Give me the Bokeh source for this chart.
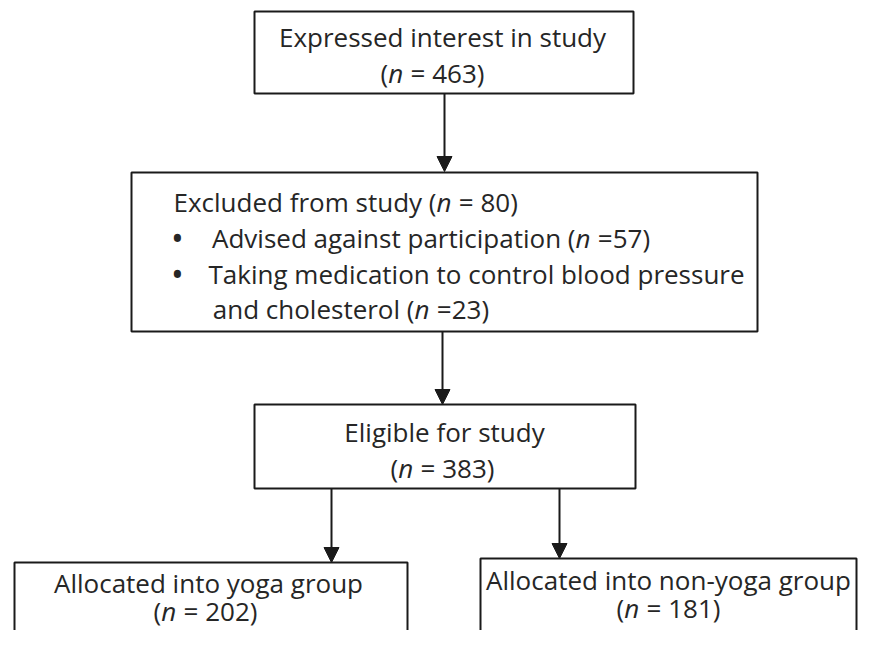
from bokeh.plotting import figure
from bokeh.models import Range1d, Arrow, NormalHead
from bokeh.core.properties import value
from bokeh.embed import file_html
from bokeh.resources import INLINE

# ---------------- data ----------------
stages = ["Expressed interest in study", "Excluded from study", "Eligible for study",
          "Allocated into yoga group", "Allocated into non-yoga group"]
counts = [463, 80, 383, 202, 181]
exclusion_reasons = ["Advised against participation",
                     "Taking medication to control blood pressure", "and cholesterol"]
exclusion_counts = [57, 23]

# ---------------- layout (screen pixel coordinates) ----------------
FONT = "Open Sans"
FS = 26
TXT = "#262626"
LINE = "#1a1a1a"
W, H = 858, 630

# boxes: left, top, right, bottom
boxes = [(254, 11, 633, 93), (131, 172, 757, 331), (254, 404, 635, 488),
         (14, 562, 407, 700), (480, 558, 856, 700)]
arrows = [(444, 93, 444, 171), (442, 331, 442, 404), (331, 488, 331, 562), (559, 488, 559, 558)]

p = figure(width=W, height=H, output_backend="svg", toolbar_location=None,
           x_range=Range1d(0, W), y_range=Range1d(H, 0), min_border=0)
p.axis.visible = False
p.grid.visible = False
p.outline_line_color = None
p.background_fill_color = "white"
p.border_fill_color = "white"

p.quad(left=[b[0] for b in boxes], right=[b[2] for b in boxes],
       top=[b[1] for b in boxes], bottom=[b[3] for b in boxes],
       fill_color="white", line_color=LINE, line_width=2)

for (x0, y0, x1, y1) in arrows:
    p.add_layout(Arrow(x_start=x0, y_start=y0, x_end=x1, y_end=y1, line_color=LINE, line_width=2,
                       end=NormalHead(size=15, fill_color=LINE, line_color=LINE, line_width=1)))

CW = {" ": 0.26, "(": 0.296, ")": 0.296, "=": 0.571, "n": 0.6}


def wid(s):
    return sum(CW.get(c, 0.571) for c in s) * FS


def txt(x, y, s, align="left", style="normal", size=FS):
    p.text(x=[x], y=[y], text=[s], text_font=value(FONT), text_font_size=f"{size}px",
           text_color=TXT, text_align=align, text_baseline="middle", text_font_style=style)


def count_tail(xn, y, n, sep):
    # italic n, then the rest of the count; a leading space is drawn as an offset
    txt(xn, y, "n", style="italic")
    x = xn + wid("n")
    rest = sep + str(n) + ")"
    if rest.startswith(" "):
        x += wid(" ")
        rest = rest.lstrip(" ")
    txt(x, y, rest)


def count_line(cx, y, n, sep=" = "):
    total = wid("(") + wid("n") + wid(sep + str(n) + ")")
    x = cx - total / 2
    txt(x, y, "(")
    count_tail(x + wid("("), y, n, sep)


def anchored(xn, y, prefix, n, sep):
    txt(xn, y, prefix + "(", align="right")
    count_tail(xn, y, n, sep)


# box 1
txt(442, 36, stages[0], align="center")
count_line(432, 72, counts[0])
# box 2
anchored(436, 201, stages[1] + " ", counts[1], " = ")
txt(177, 237, "•", align="center", size=34)
anchored(575, 237, exclusion_reasons[0] + " ", exclusion_counts[0], " =")
txt(177, 273, "•", align="center", size=34)
txt(208, 273, exclusion_reasons[1])
anchored(414, 308, exclusion_reasons[2] + " ", exclusion_counts[1], " =")
# box 3
txt(444, 431, stages[2], align="center")
count_line(442, 467, counts[2])
# box 4
txt(208, 582, stages[3], align="center")
count_line(205, 610, counts[3])
# box 5
txt(668, 579, stages[4], align="center")
count_line(668, 607, counts[4])

open("out.html", "w").write(file_html(p, INLINE))
